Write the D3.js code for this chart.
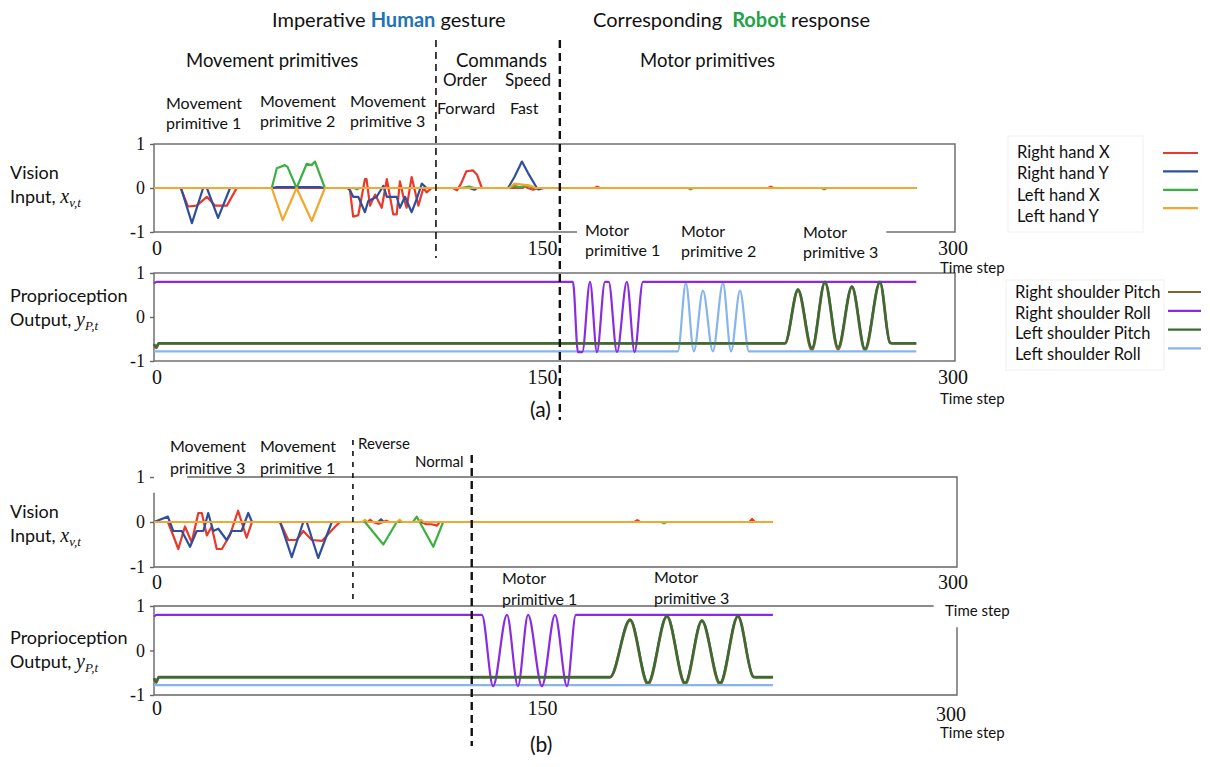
<!DOCTYPE html>
<html>
<head>
<meta charset="UTF-8">
<title>Human gesture / robot response</title>
<script src="https://cdn.jsdelivr.net/npm/d3@7"></script>
<style>
  body { margin: 0; background: #fff; }
  text { font-family: Lato, "Open Sans", sans-serif; fill: #111; }
  .num { font-family: "Liberation Serif", serif; }
  .math { font-family: "Liberation Serif", serif; font-style: italic; }
</style>
</head>
<body>
<svg id="fig" width="1210" height="767"></svg>
<script>
// ---- data : [time step, value] key points ----
const visNames = ["Right hand X", "Right hand Y", "Left hand X", "Left hand Y"];
const visColors = ["#e8392b", "#2f4f9e", "#3cb043", "#f2a72e"];
const proNames = ["Right shoulder Pitch", "Right shoulder Roll", "Left shoulder Pitch", "Left shoulder Roll"];
const proColors = ["#7d6431", "#8a2be2", "#3b6b35", "#86b4f0"];

// (a) vision
const aRightX = [[0,0],[10,0],[12.7,-0.42],[16,-0.4],[19.8,-0.2],[22.8,-0.4],[27.3,-0.4],[31,0],[72.5,0],[73.4,-0.05],[74.6,-0.65],[76.5,-0.62],[79,0.2],[79.6,0.2],[80.9,-0.4],[82.8,-0.15],[85.3,-0.45],[87.2,0.2],[89.6,-0.6],[90.9,-0.6],[92.1,0.15],[93.4,-0.2],[94.6,-0.45],[96.5,0.25],[99,-0.4],[100.9,0],[102.1,-0.1],[104,0],[112,0],[113.5,-0.05],[115,0.1],[117,0.38],[119.5,0.4],[121,0.3],[122.8,0],[138,0],[139,0.04],[140,0],[142,-0.04],[144,0],[165,0],[166,0.03],[167,0],[230,0],[231,0.03],[232,0],[285.5,0]];
const aRightY = [[0,0],[10.1,0],[14.2,-0.8],[18.4,0],[19.8,0],[24,-0.68],[28.5,0],[44,0],[46,0.02],[62,0.02],[64,0],[72.5,0],[73.4,-0.05],[74.6,-0.2],[76.5,-0.2],[79,-0.55],[80.2,-0.3],[83.4,-0.2],[85.9,0.05],[87.2,-0.2],[90.9,-0.2],[92.1,-0.45],[94,-0.2],[96.5,-0.55],[98.4,-0.25],[100.3,0.1],[102.1,0],[118,0],[120,-0.04],[121,0],[132.6,0],[135,0.25],[137.8,0.6],[140,0.35],[143.4,0],[144,-0.03],[146,0],[285.5,0]];
const aLeftX = [[0,0],[44.1,0],[46,0.45],[49,0.52],[50,0.48],[53.4,0],[57.2,0.55],[59,0.52],[60.3,0.6],[64,0],[75,0],[76,-0.03],[77,0],[115,0],[118,0.03],[120,0],[133,0],[135,0.05],[137,0.02],[140,0.06],[142,0],[200,0],[201,-0.03],[202,0],[250,0],[251,-0.03],[252,0],[285.5,0]];
const aLeftY = [[0,0],[44.1,0],[48.2,-0.73],[53.4,0],[59.1,-0.75],[64,0],[133,0],[135,0.1],[138,0.08],[141,0.05],[143,0],[285.5,0]];

// (a) proprioception
const aRShPitch = [[0,-0.62],[0.8,-0.7],[1.8,-0.6],[236.3,-0.6],[241.2,0.6],[246.4,-0.75],[251.3,0.78],[256.2,-0.74],[261.4,0.68],[266.3,-0.76],[271.9,0.78],[275.6,-0.58],[276.5,-0.6],[285.5,-0.6]];
const aRShRoll = [[0,0.76],[1,0.8],[156.9,0.8],[158.8,-0.8],[160.4,-0.8],[163.3,0.8],[165.9,-0.8],[168.9,0.8],[170.3,0.8],[173.4,-0.8],[177.1,0.8],[180,-0.8],[183.1,0.8],[285.5,0.8]];
const aLShPitch = [[0,-0.62],[0.8,-0.68],[1.8,-0.6],[236.3,-0.6],[241.2,0.63],[246.4,-0.7],[251.3,0.8],[256.2,-0.68],[261.4,0.7],[266.3,-0.72],[271.9,0.8],[275.6,-0.58],[276.5,-0.6],[285.5,-0.6]];
const aLShRoll = [[0,-0.78],[196.2,-0.78],[199.2,0.77],[202.2,-0.78],[205.6,0.6],[209.3,-0.78],[213.1,0.77],[216.1,-0.78],[219.5,0.6],[222.8,-0.78],[285.5,-0.78]];

// (b) vision
const bRightX = [[0,0],[5.2,0],[7.2,-0.3],[9.1,-0.6],[11.6,-0.1],[14.1,-0.45],[16.6,0.2],[17.9,0.2],[19.8,-0.3],[21.6,-0.1],[23.5,-0.6],[25.4,-0.6],[28.4,-0.3],[31.5,0.25],[34.7,-0.35],[36.7,0],[47.2,0],[50.3,-0.4],[53.4,-0.4],[55.9,-0.2],[59.1,-0.4],[62.9,-0.42],[67.1,-0.15],[69.6,0],[80,0],[81,0.05],[82,0],[84,-0.04],[87,0.03],[88,0],[100,0],[102,-0.05],[104,-0.05],[106,-0.08],[107,0],[180,0],[181,0.04],[182,0],[223,0],[224,0.07],[225,0],[231.8,0]];
const bRightY = [[0,0],[5.2,0.12],[7.2,-0.2],[10.4,-0.2],[13.5,-0.55],[16,-0.2],[18.5,-0.2],[20.3,0.2],[22.2,-0.2],[24.1,-0.15],[27.2,-0.4],[29.1,-0.2],[32.8,-0.2],[35.3,0.2],[36.7,0],[47.2,0],[51.6,-0.78],[55.9,0],[57.2,0],[61.5,-0.8],[66.6,0],[84,0],[85,0.06],[86,0],[231.8,0]];
const bLeftX = [[0,0],[79,0],[85.9,-0.5],[90.9,0],[97,0],[98.4,0.12],[99.5,0],[104.6,-0.55],[108.3,0],[190,0],[191,-0.03],[192,0],[231.8,0]];
const bLeftY = [[0,0],[78,0],[79,0.05],[80,0],[91,0],[92,0.05],[93,0],[99,0],[100,0.05],[101,0],[231.8,0]];

// (b) proprioception
const bRShPitch = [[0,-0.62],[0.8,-0.72],[1.8,-0.6],[170.8,-0.6],[178.3,0.68],[185,-0.76],[192.1,0.76],[198.9,-0.76],[205.2,0.66],[212,-0.76],[218.7,0.76],[224.3,-0.58],[225,-0.6],[231.8,-0.6]];
const bRShRoll = [[0,0.76],[1,0.8],[122.8,0.8],[127,-0.8],[132.2,0.8],[136.3,-0.8],[140.1,0.8],[145.3,-0.8],[150.2,0.8],[154.7,-0.8],[158,0.8],[231.8,0.8]];
const bLShPitch = [[0,-0.62],[0.8,-0.7],[1.8,-0.6],[170.8,-0.6],[178.3,0.7],[185,-0.72],[192.1,0.78],[198.9,-0.72],[205.2,0.68],[212,-0.72],[218.7,0.78],[224.3,-0.58],[225,-0.6],[231.8,-0.6]];
const bLShRoll = [[0,-0.78],[231.8,-0.78]];

const yTicks = [-1, 0, 1];
const dividersA = [105.6, 152];
const dividersB = [74.5, 119];

// ---- drawing ----
const svg = d3.select("#fig");
const x = d3.scaleLinear().domain([0, 300]).range([154, 955]);

const yAV = d3.scaleLinear().domain([-1, 1]).range([232, 144]);
const yAP = d3.scaleLinear().domain([-1, 1]).range([361, 273]);
const yBV = d3.scaleLinear().domain([-1, 1]).range([567, 477]);
const yBP = d3.scaleLinear().domain([-1, 1]).range([695, 606]);

const frameColor = "#666";

function frame(y, pathD) {
    if (pathD) {
        svg.append("path").attr("d", pathD).attr("fill", "none")
            .attr("stroke", frameColor).attr("stroke-width", 1.4);
    } else {
        svg.append("rect")
            .attr("x", x(0)).attr("y", y(1))
            .attr("width", x(300) - x(0)).attr("height", y(-1) - y(1))
            .attr("fill", "none").attr("stroke", frameColor).attr("stroke-width", 1.4);
    }
    const ax = svg.append("g")
        .attr("transform", `translate(${x(0)},0)`)
        .call(d3.axisLeft(y).tickValues(yTicks).tickSize(4).tickPadding(5).tickFormat(d => String(d)));
    ax.select(".domain").remove();
    ax.selectAll("line").attr("stroke", frameColor).attr("stroke-width", 1.4);
    ax.selectAll("text").attr("class", "num").style("font-size", "18px").attr("fill", "#111");
}

function series(y, list, colors, widths, curve) {
    const line = d3.line().x(d => x(d[0])).y(d => y(d[1])).curve(curve);
    list.forEach((s, i) => {
        svg.append("path").datum(s)
            .attr("d", line)
            .attr("fill", "none")
            .attr("stroke", colors[i])
            .attr("stroke-width", widths[i])
            .attr("stroke-linejoin", "round");
    });
}

function xLabels(yPos, values) {
    values.forEach(v => {
        const anchor = v === 0 ? "start" : (v === 150 ? "end" : "start");
        const dx = v === 0 ? -2 : (v === 150 ? 3 : -17);
        svg.append("text").attr("class", "num")
            .attr("x", x(v) + dx).attr("y", yPos)
            .attr("text-anchor", anchor)
            .style("font-size", "20px")
            .text(v);
    });
}

function timeStep(xPos, yPos, bg) {
    const t = svg.append("text").attr("x", xPos).attr("y", yPos)
        .style("font-size", "15px").text("Time step");
    if (bg) {
        const b = t.node().getBBox();
        svg.insert("rect", () => t.node())
            .attr("x", b.x - 10).attr("y", b.y - 6)
            .attr("width", b.width + 16).attr("height", b.height + 14)
            .attr("fill", "#fff");
    }
}

// frames
frame(yAV);
frame(yAP);
frame(yBV, `M${x(12.4)},${yBV(1)} H${x(300) + 2} V${yBV(-1)} H${x(0)} V${yBV(0.65)}`);
frame(yBP, `M${x(292)},${yBP(1)} H${x(0)} V${yBP(-1)} H${x(300) + 2} V${yBP(0.52)}`);

// lines
const visW = [2.2, 2.2, 2.2, 2.2];
series(yAV, [aRightX, aRightY, aLeftX, aLeftY], visColors, visW, d3.curveLinear);
series(yBV, [bRightX, bRightY, bLeftX, bLeftY], visColors, visW, d3.curveLinear);
const proOrder = [proColors[0], proColors[3], proColors[1], proColors[2]];
series(yAP, [aRShPitch, aLShRoll, aRShRoll, aLShPitch], proOrder, [2.8, 2.2, 2.2, 2.4], d3.curveMonotoneX);
series(yBP, [bRShPitch, bLShRoll, bRShRoll, bLShPitch], proOrder, [2.8, 2.2, 2.2, 2.4], d3.curveMonotoneX);

// x tick labels
xLabels(255, [0, 150, 300]);
xLabels(384, [0, 150]);
svg.append("text").attr("class", "num").attr("x", x(300) - 17).attr("y", 384).style("font-size", "20px").text("300");
xLabels(589, [0, 300]);
xLabels(715, [0, 150]);
svg.append("text").attr("class", "num").attr("x", x(300) - 19).attr("y", 721).style("font-size", "20px").text("300");

timeStep(940, 273, false);
timeStep(940, 404, false);
timeStep(945, 616, true);
timeStep(940, 738, false);

// dividers
function divider(t, y1, y2, w, dash) {
    svg.append("line").attr("x1", x(t)).attr("x2", x(t)).attr("y1", y1).attr("y2", y2)
        .attr("stroke", "#111").attr("stroke-width", w).attr("stroke-dasharray", dash);
}
divider(dividersA[0], 40, 258, 1.6, "7,5");
divider(dividersA[1], 40, 420, 2.4, "8,5");
divider(dividersB[0], 440, 603, 1.6, "5,6");
divider(dividersB[1], 455, 746, 2.4, "8,5");

// annotations
function label(lines, xPos, yPos, size, lh) {
    const t = svg.append("text").attr("x", xPos).attr("y", yPos).style("font-size", size + "px");
    lines.forEach((s, i) => t.append("tspan").attr("x", xPos).attr("dy", i ? lh : 0).text(s));
    return t;
}

// title
const t1 = svg.append("text").attr("x", 272).attr("y", 27).style("font-size", "20px");
t1.append("tspan").text("Imperative ");
t1.append("tspan").style("font-weight", "bold").attr("fill", "#1f73b7").text("Human");
t1.append("tspan").text(" gesture");
const t2 = svg.append("text").attr("x", 593).attr("y", 27).style("font-size", "20px");
t2.append("tspan").text("Corresponding");
t2.append("tspan").attr("dx", 10).style("font-weight", "bold").attr("fill", "#22a349").text("Robot");
t2.append("tspan").text(" response");

label(["Movement primitives"], 186, 67, 18.5, 0);
label(["Commands"], 456, 67, 18.5, 0);
label(["Motor primitives"], 640, 67, 18.5, 0);
label(["Order"], 443, 86, 17, 0);
label(["Speed"], 505, 86, 17, 0);
label(["Forward"], 437, 114, 16, 0);
label(["Fast"], 510, 114, 16, 0);
label(["Movement", "primitive 1"], 166, 109, 16, 20);
label(["Movement", "primitive 2"], 260, 107, 16, 20);
label(["Movement", "primitive 3"], 350, 107, 16, 20);

// motor primitive labels (a) sit on a white box that hides the frame line
const mp = [
    label(["Motor", "primitive 1"], 585, 236, 16, 20),
    label(["Motor", "primitive 2"], 681, 237, 16, 20),
    label(["Motor", "primitive 3"], 803, 238, 16, 20)
];
const b0 = mp[0].node().getBBox(), b2 = mp[2].node().getBBox();
svg.insert("rect", () => mp[0].node())
    .attr("x", b0.x - 8).attr("y", b0.y - 2)
    .attr("width", b2.x + b2.width + 8 - (b0.x - 8)).attr("height", b0.height + 4)
    .attr("fill", "#fff");

label(["Movement", "primitive 3"], 170, 452, 16, 22);
label(["Movement", "primitive 1"], 260, 452, 16, 22);
label(["Reverse"], 358, 449, 15, 0);
label(["Normal"], 415, 467, 15, 0);
label(["Motor", "primitive 1"], 502, 584, 16, 21);
label(["Motor", "primitive 3"], 654, 583, 16, 21);

label(["(a)"], 530, 417, 21, 0);
label(["(b)"], 530, 752, 21, 0);

// y-axis titles
function yTitle(first, yPos, sym, sub) {
    svg.append("text").attr("x", 10).attr("y", yPos).style("font-size", "18px").text(first);
    const t = svg.append("text").attr("x", 10).attr("y", yPos + 24).style("font-size", "18px");
    t.append("tspan").text(first === "Vision" ? "Input, " : "Output, ");
    t.append("tspan").attr("class", "math").style("font-size", "20px").text(sym);
    t.append("tspan").attr("class", "math").style("font-size", "13px").attr("dy", 4).text(sub);
}
yTitle("Vision", 179, "x", "v,t");
yTitle("Proprioception", 302, "y", "P,t");
yTitle("Vision", 518, "x", "v,t");
yTitle("Proprioception", 644, "y", "P,t");

// legends
function legend(names, colors, x0, y0, step, lx1, lx2, ly0, lstep, box) {
    svg.append("rect").attr("x", box[0]).attr("y", box[1]).attr("width", box[2]).attr("height", box[3])
        .attr("fill", "none").attr("stroke", "#f0f0f0");
    names.forEach((n, i) => {
        svg.append("text").attr("x", x0).attr("y", y0 + i * step).style("font-size", "16.5px").text(n);
        svg.append("line").attr("x1", lx1).attr("x2", lx2)
            .attr("y1", ly0 + i * lstep).attr("y2", ly0 + i * lstep)
            .attr("stroke", colors[i]).attr("stroke-width", 2.2);
    });
}
legend(visNames, visColors, 1017, 158, 21.3, 1163, 1198, 153, 18.4, [1008, 136, 135, 96]);
legend(proNames, proColors, 1015, 298, 20.7, 1168, 1201, 292, 18.8, [1006, 280, 158, 90]);
</script>
</body>
</html>
